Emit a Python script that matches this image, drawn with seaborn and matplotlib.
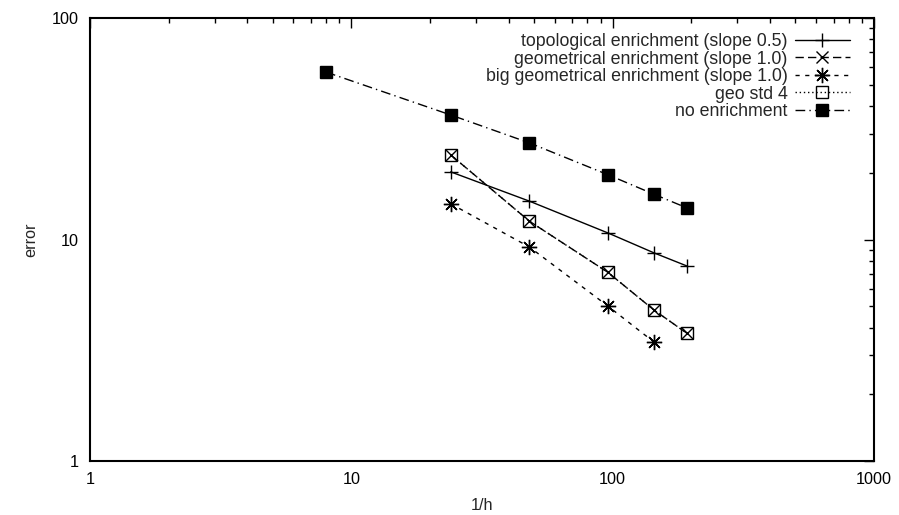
import numpy as np
import pandas as pd
import seaborn as sns
import matplotlib.pyplot as plt
from matplotlib.ticker import LogLocator, NullFormatter, FixedLocator

# values
x_full = [8, 24, 48, 96, 144, 192]
x_part = [24, 48, 96, 144, 192]
x_big = [24, 48, 96, 144]

err_topo = [20.2, 14.9, 10.7, 8.7, 7.6]
err_geo = [24.1, 12.1, 7.1, 4.8, 3.78]
err_big = [14.5, 9.25, 5.0, 3.44]
err_std4 = [24.1, 12.1, 7.1, 4.8, 3.78]
err_none = [57.0, 36.5, 27.3, 19.6, 16.0, 13.9]

labels = [
    "topological enrichment (slope 0.5)",
    "geometrical enrichment (slope 1.0)",
    "big geometrical enrichment (slope 1.0)",
    "geo std 4",
    "no enrichment",
]

sns.set_theme(style="white")
plt.rcParams['font.family'] = ['Liberation Sans', 'DejaVu Sans']

fig = plt.figure(figsize=(8.99, 5.15), dpi=100)
ax = fig.add_axes([90 / 899, 1 - 461 / 515, 784 / 899, 443 / 515])

series = [
    (x_part, err_topo, dict(marker="+", markersize=10, linestyle="-")),
    (x_part, err_geo, dict(marker="x", markersize=8, dashes=(6, 3))),
    (x_big, err_big, dict(marker=(8, 2, 0), markersize=11, dashes=(3, 4))),
    (x_part, err_std4, dict(marker="s", markersize=9, markerfacecolor="none", dashes=(1, 2))),
    (x_full, err_none, dict(marker="s", markersize=9, dashes=(7, 3, 1, 3))),
]

for (xs, ys, style), lab in zip(series, labels):
    df = pd.DataFrame({"x": xs, "y": ys})
    sns.lineplot(data=df, x="x", y="y", ax=ax, color="black", linewidth=1,
                 markeredgewidth=1, markeredgecolor="black", label=lab, **style)

ax.set_xscale("log")
ax.set_yscale("log")
ax.set_xlim(1, 1000)
ax.set_ylim(1, 100)

ax.xaxis.set_major_locator(FixedLocator([1, 10, 100, 1000]))
ax.yaxis.set_major_locator(FixedLocator([1, 10, 100]))
ax.set_xticklabels(["1", "10", "100", "1000"])
ax.set_yticklabels(["1", "10", "100"])
ax.xaxis.set_minor_locator(LogLocator(base=10, subs=np.arange(2, 10)))
ax.yaxis.set_minor_locator(LogLocator(base=10, subs=np.arange(2, 10)))
ax.xaxis.set_minor_formatter(NullFormatter())
ax.yaxis.set_minor_formatter(NullFormatter())

ax.tick_params(which="both", direction="in", top=True, right=True,
               colors="black", labelsize=11.7, width=1)
ax.tick_params(which="major", length=7.2, pad=8)
ax.tick_params(which="minor", length=3.6)
for s in ax.spines.values():
    s.set_linewidth(1.5)
    s.set_color("black")

ax.set_xlabel("1/h", fontsize=11.7, labelpad=8)
ax.set_ylabel("error", fontsize=11.7, labelpad=10)

ax.legend(loc="upper right", bbox_to_anchor=(0.978, 0.982), frameon=False,
          markerfirst=False, fontsize=12.8, handlelength=3.1,
          handletextpad=0.4, labelspacing=0.03, borderaxespad=0)

fig.savefig("out.png", dpi=100)
